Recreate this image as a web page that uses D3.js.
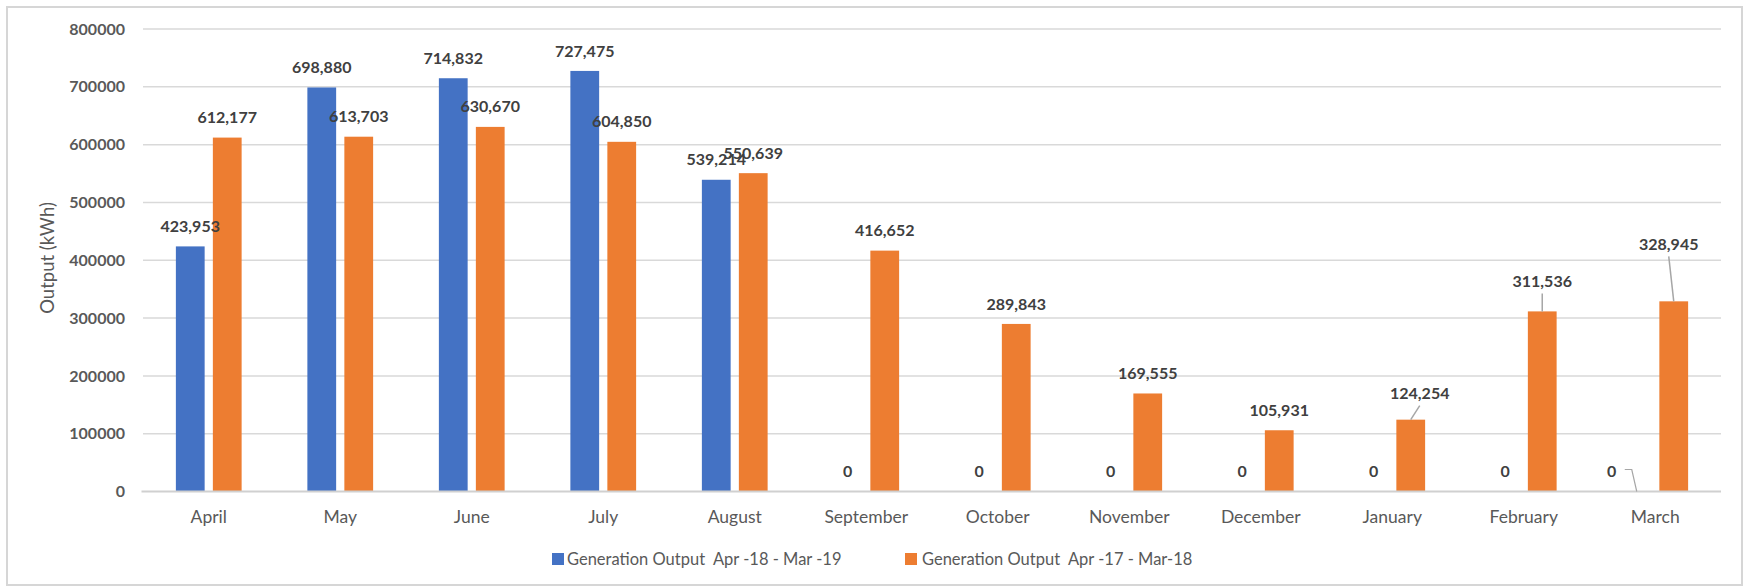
<!DOCTYPE html>
<html>
<head>
<meta charset="utf-8">
<script src="https://cdn.jsdelivr.net/npm/d3@7"></script>
<style>
  body { margin: 0; background: #fff; }
  svg text { font-family: Lato, "Open Sans", sans-serif; }
</style>
</head>
<body>
<svg id="chart" width="1745" height="587"></svg>
<script>
// ---------- data ----------
const months = ["April","May","June","July","August","September","October","November","December","January","February","March"];
const seriesNames = ["Generation Output  Apr -18 - Mar -19", "Generation Output  Apr -17 - Mar-18"];
const output2018 = [423953, 698880, 714832, 727475, 539214, 0, 0, 0, 0, 0, 0, 0];
const output2017 = [612177, 613703, 630670, 604850, 550639, 416652, 289843, 169555, 105931, 124254, 311536, 328945];
const yTicks = [0, 100000, 200000, 300000, 400000, 500000, 600000, 700000, 800000];
const yTitle = "Output (kWh)";

// ---------- style / layout ----------
const colors = ["#4472C4", "#ED7D31"];
const W = 1745, H = 587;
const plot = { left: 143, right: 1721, top: 29, bottom: 491.5 };
// manually moved data labels (series index - month index): offsets in px
const labelNudges = {
  "1-9":  { dx: 9,   dy: -6,  leader: "straight" },
  "1-10": { dx: 0,   dy: -10, leader: "straight" },
  "1-11": { dx: -5,  dy: -37, leader: "straight" },
  "0-11": { dx: -25, dy: 0,   leader: "elbow" }
};

const svg = d3.select("#chart");
svg.append("rect").attr("x", 0).attr("y", 0).attr("width", W).attr("height", H).attr("fill", "#fff");
// chart border
svg.append("rect").attr("x", 7).attr("y", 7).attr("width", 1735).attr("height", 578)
  .attr("fill", "none").attr("stroke", "#d6d6d6").attr("stroke-width", 2);

const x0 = d3.scaleBand().domain(months).range([plot.left, plot.right]).paddingInner(0.5).paddingOuter(0.25);
const x1 = d3.scaleBand().domain([0, 1]).range([0, x0.bandwidth()]).paddingInner(0.222).paddingOuter(0);
const y = d3.scaleLinear().domain([0, 800000]).range([plot.bottom, plot.top]);

// gridlines
svg.append("g").selectAll("line").data(yTicks.filter(d => d > 0)).join("line")
  .attr("x1", plot.left).attr("x2", plot.right)
  .attr("y1", d => y(d)).attr("y2", d => y(d))
  .attr("stroke", "#d9d9d9").attr("stroke-width", 1.5);

// y axis labels
const yAxis = d3.axisLeft(y).tickValues(yTicks).tickFormat(d3.format("d")).tickSize(0).tickPadding(0);
const gy = svg.append("g").attr("transform", `translate(${plot.left - 18},0)`).call(yAxis);
gy.select(".domain").remove();
gy.selectAll("text").attr("fill", "#595959").attr("font-size", 16).attr("font-weight", "bold")
  .style("font-family", "Lato, sans-serif");

// y title
svg.append("text").attr("transform", "translate(48,258) rotate(-90)")
  .attr("text-anchor", "middle").attr("dy", "0.35em")
  .attr("fill", "#595959").attr("font-size", 18.5).text(yTitle);

// bars
const series = [output2018, output2017];
const barData = [];
series.forEach((vals, s) => vals.forEach((v, i) => barData.push({ s, i, v, m: months[i] })));

svg.append("g").selectAll("rect").data(barData.filter(d => d.v > 0)).join("rect")
  .attr("x", d => x0(d.m) + x1(d.s))
  .attr("width", x1.bandwidth())
  .attr("y", d => y(d.v))
  .attr("height", d => y(0) - y(d.v))
  .attr("fill", d => colors[d.s]);

// x axis line
svg.append("line").attr("x1", plot.left - 1.5).attr("x2", plot.right)
  .attr("y1", y(0)).attr("y2", y(0)).attr("stroke", "#d0d0d0").attr("stroke-width", 2);

// x axis labels
const xAxis = d3.axisBottom(x0).tickSize(0).tickPadding(0);
const gx = svg.append("g").attr("transform", `translate(0,${y(0)})`).call(xAxis);
gx.select(".domain").remove();
gx.selectAll("text").attr("y", 25).attr("dy", "0.35em").attr("fill", "#595959")
  .attr("font-size", 17.5).style("font-family", "Lato, sans-serif");

// data labels + leader lines
const fmt = d3.format(",");
const lbl = svg.append("g");
barData.forEach(d => {
  const cx = x0(d.m) + x1(d.s) + x1.bandwidth() / 2;
  const top = y(d.v);
  const n = labelNudges[d.s + "-" + d.i] || { dx: 0, dy: 0 };
  const lx = cx + n.dx, ly = top - 20 + n.dy;
  lbl.append("text").attr("x", lx).attr("y", ly).attr("dy", "0.35em")
    .attr("text-anchor", "middle").attr("fill", "#404040")
    .attr("font-size", 16).attr("font-weight", "bold").text(fmt(d.v));
  if (n.leader === "straight") {
    lbl.append("line").attr("x1", lx).attr("y1", ly + 12).attr("x2", cx).attr("y2", top)
      .attr("stroke", "#a6a6a6").attr("stroke-width", 1.5);
  } else if (n.leader === "elbow") {
    lbl.append("path")
      .attr("d", `M${lx + 13},${ly - 2}H${cx - 5}L${cx},${top}`)
      .attr("fill", "none").attr("stroke", "#a6a6a6").attr("stroke-width", 1.2);
  }
});

// legend
const legendItems = [{ x: 552, tx: 567 }, { x: 905, tx: 922 }];
const lg = svg.append("g");
seriesNames.forEach((name, s) => {
  lg.append("rect").attr("x", legendItems[s].x).attr("y", 553).attr("width", 12).attr("height", 12)
    .attr("fill", colors[s]);
  lg.append("text").attr("x", legendItems[s].tx).attr("y", 559).attr("dy", "0.35em")
    .attr("fill", "#595959").attr("font-size", 16.5).style("white-space", "pre").text(name);
});
</script>
</body>
</html>
